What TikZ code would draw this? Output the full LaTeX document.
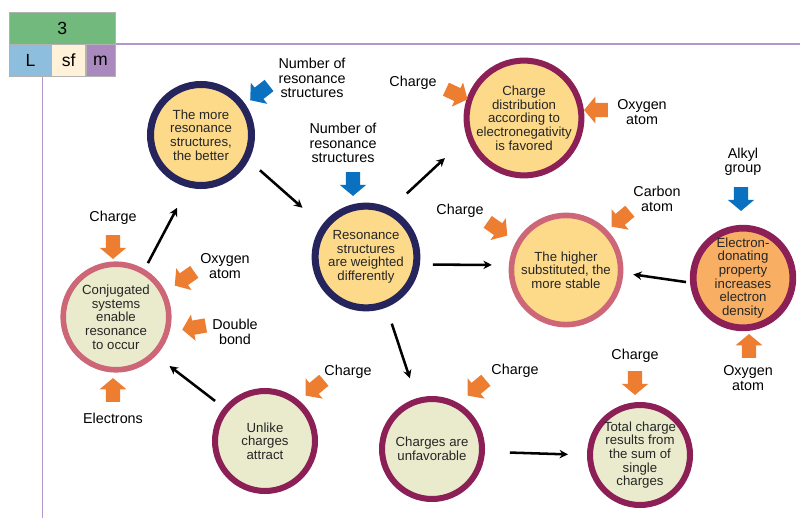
\documentclass[tikz,border=0pt]{standalone}
\usepackage{fontspec}
\setmainfont{Liberation Sans}
\usetikzlibrary{arrows.meta, shapes.arrows}
\definecolor{navy}{HTML}{25245C}
\definecolor{wine}{HTML}{8B1F56}
\definecolor{rose}{HTML}{CD6778}
\definecolor{sand}{HTML}{FDD98A}
\definecolor{pale}{HTML}{E9EBCC}
\definecolor{peach}{HTML}{F8AF63}
\definecolor{ocol}{HTML}{ED7D31}
\definecolor{bcol}{HTML}{0A70C0}
\definecolor{hgreen}{HTML}{72B97D}
\definecolor{hblue}{HTML}{8EBEDE}
\definecolor{hcream}{HTML}{FFF2D8}
\definecolor{hpurple}{HTML}{AA8ABE}
\definecolor{lcol}{HTML}{B597C9}

\begin{document}
\begin{tikzpicture}[x=0.025cm, y=-0.025cm, >={Stealth[length=6pt, width=6pt]},
  bub/.style={circle, align=center, inner sep=0pt, text=black!85,
    font=\fontsize{9.4}{9.7}\selectfont},
  lbl/.style={align=center, inner sep=0pt, font=\fontsize{10.2}{10.3}\selectfont},
  blk/.style={single arrow, draw=none, minimum height=17pt, inner sep=4.9pt,
    single arrow head extend=4.4pt, single arrow tip angle=100},
  oblk/.style={blk, fill=ocol},
  bblk/.style={blk, fill=bcol},
  hdr/.style={draw=black!30, thin, inner sep=0pt, font=\fontsize{12.5}{13}\selectfont},
  link/.style={->, line width=1.8pt}]

\useasboundingbox (0,0) rectangle (800,518);

% header
\draw[lcol, line width=1pt] (115,44) -- (800,44);
\draw[lcol, line width=1pt] (42.7,76.7) -- (42.7,518);
\node[hdr, fill=hgreen, minimum width=2.64cm, minimum height=0.8cm] (num) at (62.2,28.3) {3};
\node[hdr, fill=hblue, minimum width=1.06cm, minimum height=0.81cm] (hl) at (30.5,60.5) {L};
\node[hdr, fill=hcream, minimum width=0.85cm, minimum height=0.81cm] (hsf) at (68.7,60.5) {sf};
\node[hdr, fill=hpurple, minimum width=0.73cm, minimum height=0.81cm] (hm) at (100.4,60.5) {m};

% circles
\node[bub, draw=navy, fill=sand, line width=5pt, minimum size=2.7cm-5pt] (more) at (201,135)
  {The more\\resonance\\structures,\\the better};
\node[bub, draw=wine, fill=sand, line width=4.3pt, minimum size=2.65cm-4.3pt] (chg) at (524,118)
  {Charge\\distribution\\according to\\electronegativity\\is favored};
\node[bub, draw=navy, fill=sand, line width=5pt, minimum size=2.72cm-5pt] (res) at (366,257)
  {Resonance\\structures\\are weighted\\differently};
\node[bub, draw=rose, fill=sand, line width=4pt, minimum size=2.87cm-4pt] (high) at (566,270)
  {The higher\\substituted, the\\more stable};
\node[bub, draw=wine, fill=peach, line width=4.8pt, minimum size=2.66cm-4.8pt] (edon) at (743,278)
  {Electron-\\donating\\property\\increases\\electron\\density};
\node[bub, draw=rose, fill=pale, line width=4pt, minimum size=2.78cm-4pt] (conj) at (116,317)
  {Conjugated\\systems\\enable\\resonance\\to occur};
\node[bub, draw=wine, fill=pale, line width=4.3pt, minimum size=2.65cm-4.3pt] (unlike) at (265,441)
  {Unlike\\charges\\attract};
\node[bub, draw=wine, fill=pale, line width=4.3pt, minimum size=2.65cm-4.3pt] (unfav) at (432,449)
  {Charges are\\unfavorable};
\node[bub, draw=wine, fill=pale, line width=4.3pt, minimum size=2.65cm-4.3pt] (total) at (640,455)
  {Total charge\\results from\\the sum of\\single\\charges};

% links between circles
\draw[link, shorten <=0.175cm, shorten >=0.575cm] (conj.59) -- (more.256);
\draw[link, shorten <=0.375cm, shorten >=0.65cm] (more.-28) -- (res.144);
\draw[link, shorten <=0.55cm, shorten >=0.75cm] (res.63) -- (chg.199);
\draw[link, shorten <=0.325cm, shorten >=0.425cm] (res.-8) -- (high.175);
\draw[link, shorten <=0.425cm, shorten >=0.525cm] (res.-68) -- (unfav.107);
\draw[link, shorten <=0.1cm, shorten >=0.25cm] (edon.185) -- (high.-3);
\draw[link, shorten <=0.625cm, shorten >=0.475cm] (unfav.-3) -- (total.180);
\draw[link, shorten <=0.275cm, shorten >=0.425cm] (unlike.141) -- (conj.-44);

% influences
\node[bblk, rotate=218] (nrsA) at (262,91) {};
\node[lbl] (lnrsA) at (312,78) {Number of\\resonance\\structures};
\node[bblk, rotate=-90] (nrsB) at (353,181) {};
\node[lbl] (lnrsB) at (343,143) {Number of\\resonance\\structures};
\node[oblk, rotate=-25] (chgA) at (454,93) {};
\node[lbl] (lchgA) at (413,83) {Charge};
\node[oblk, rotate=180] (oxA) at (599,110) {};
\node[lbl] (loxA) at (642,112) {Oxygen\\atom};
\node[oblk, rotate=-35] (chgB) at (495,227) {};
\node[lbl] (lchgB) at (460,211) {Charge};
\node[oblk, rotate=220] (carb) at (623,217) {};
\node[lbl] (lcarb) at (657,199) {Carbon\\atom};
\node[bblk, rotate=-90] (alk) at (741,196) {};
\node[lbl] (lalk) at (743,162) {Alkyl\\group};
\node[oblk, rotate=90] (oxB) at (749,349) {};
\node[lbl] (loxB) at (748,378) {Oxygen\\atom};
\node[oblk, rotate=-90] (chgC) at (113,244) {};
\node[lbl] (lchgC) at (113,218) {Charge};
\node[oblk, rotate=215] (oxC) at (187,277) {};
\node[lbl] (loxC) at (225,266) {Oxygen\\atom};
\node[oblk, rotate=190] (dbl) at (197,327) {};
\node[lbl] (ldbl) at (235,332) {Double\\bond};
\node[oblk, rotate=90] (elec) at (113,393) {};
\node[lbl] (lelec) at (113,418) {Electrons};
\node[oblk, rotate=220] (chgD) at (317,386) {};
\node[lbl] (lchgD) at (348,372) {Charge};
\node[oblk, rotate=220] (chgE) at (479,386) {};
\node[lbl] (lchgE) at (515,371) {Charge};
\node[oblk, rotate=-90] (chgF) at (635,380) {};
\node[lbl] (lchgF) at (635,356) {Charge};

\end{tikzpicture}
\end{document}
